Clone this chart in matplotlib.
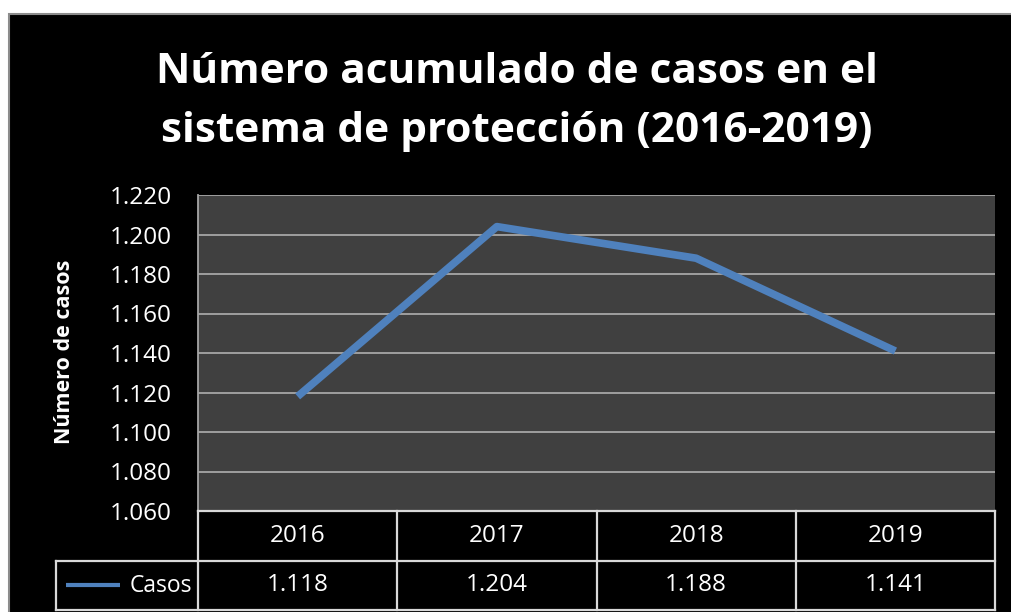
import matplotlib.pyplot as plt
from matplotlib.patches import Rectangle

# data
years = ["2016", "2017", "2018", "2019"]
casos = [1118, 1204, 1188, 1141]
y_ticks = [1060, 1080, 1100, 1120, 1140, 1160, 1180, 1200, 1220]

title = "Número acumulado de casos en el\nsistema de protección (2016-2019)"
series_name = "Casos"
y_label = "Número de casos"


def fmt(v):
    # spanish style thousands separator
    return f"{v:,}".replace(",", ".")


W, H = 1011, 612
fig = plt.figure(figsize=(W / 100, H / 100), dpi=100, facecolor="white")
plt.rcParams["font.family"] = ["Open Sans", "DejaVu Sans"]
fs = 17.5


def px(x0, y0, x1, y1):
    # pixel box (top-left origin) -> figure fraction rect
    return [x0 / W, 1 - y1 / H, (x1 - x0) / W, (y1 - y0) / H]


# black chart background with gray frame (right/bottom run off the image)
fig.patches.append(Rectangle((9 / W, -0.05), 1.1, 1.05 - 14 / H, transform=fig.transFigure,
                             facecolor="black", edgecolor="#8c8c8c", linewidth=1.5, zorder=-5))

fig.text(517 / W, 1 - 102 / H, title, ha="center", va="center", color="white",
         fontsize=30.5, fontweight="bold", linespacing=1.55)

# plot area
ax = fig.add_axes(px(198, 195, 995, 511))
ax.set_facecolor("#404040")
xs = list(range(len(years)))
ax.plot(xs, casos, color="#4f81bd", linewidth=5.5, solid_capstyle="butt", zorder=3)
ax.set_xlim(-0.5, len(years) - 0.5)
ax.set_ylim(y_ticks[0], y_ticks[-1])
ax.set_yticks(y_ticks)
ax.set_yticklabels([fmt(t) for t in y_ticks])
ax.set_xticks([])
ax.tick_params(axis="y", length=0, pad=19, labelcolor="white", labelsize=fs)
ax.grid(axis="y", color="#a6a6a6", linewidth=1.3)
for s in ax.spines.values():
    s.set_visible(False)
ax.spines["left"].set_visible(True)
ax.spines["left"].set_color("#a6a6a6")
ax.spines["left"].set_linewidth(1.3)

fig.text(65 / W, 1 - 352 / H, y_label, rotation=90, ha="center", va="center",
         color="white", fontsize=15.5, fontweight="bold")

# data table under the plot, same x scale as the plot
cat_w = (995 - 198) / len(years)
leg_units = (198 - 56) / cat_w
tab = fig.add_axes(px(56, 511, 995, 610))
tab.set_xlim(-0.5 - leg_units, len(years) - 0.5)
tab.set_ylim(0, 2)
tab.axis("off")
lc = "#d9d9d9"
lw = 1.6
tab.plot([-0.5, len(years) - 0.5], [2, 2], color=lc, lw=lw, clip_on=False)
tab.plot([-0.5 - leg_units, len(years) - 0.5], [1, 1], color=lc, lw=lw, clip_on=False)
tab.plot([-0.5 - leg_units, len(years) - 0.5], [0, 0], color=lc, lw=lw, clip_on=False)
tab.plot([-0.5 - leg_units] * 2, [0, 1], color=lc, lw=lw, clip_on=False)
for i in range(len(years) + 1):
    tab.plot([i - 0.5] * 2, [0, 2], color=lc, lw=lw, clip_on=False)
for i, (yr, v) in enumerate(zip(years, casos)):
    tab.text(i, 1.5, yr, ha="center", va="center", color="white", fontsize=fs)
    tab.text(i, 0.5, fmt(v), ha="center", va="center", color="white", fontsize=fs)
# legend key
x0 = -0.5 - leg_units
tab.plot([x0 + 0.05, x0 + 0.32], [0.5, 0.5], color="#4f81bd", lw=3, solid_capstyle="butt")
tab.text(-0.5 - 0.03, 0.48, series_name, ha="right", va="center", color="white", fontsize=16.5)

fig.savefig("out.png", dpi=100, facecolor="white")
